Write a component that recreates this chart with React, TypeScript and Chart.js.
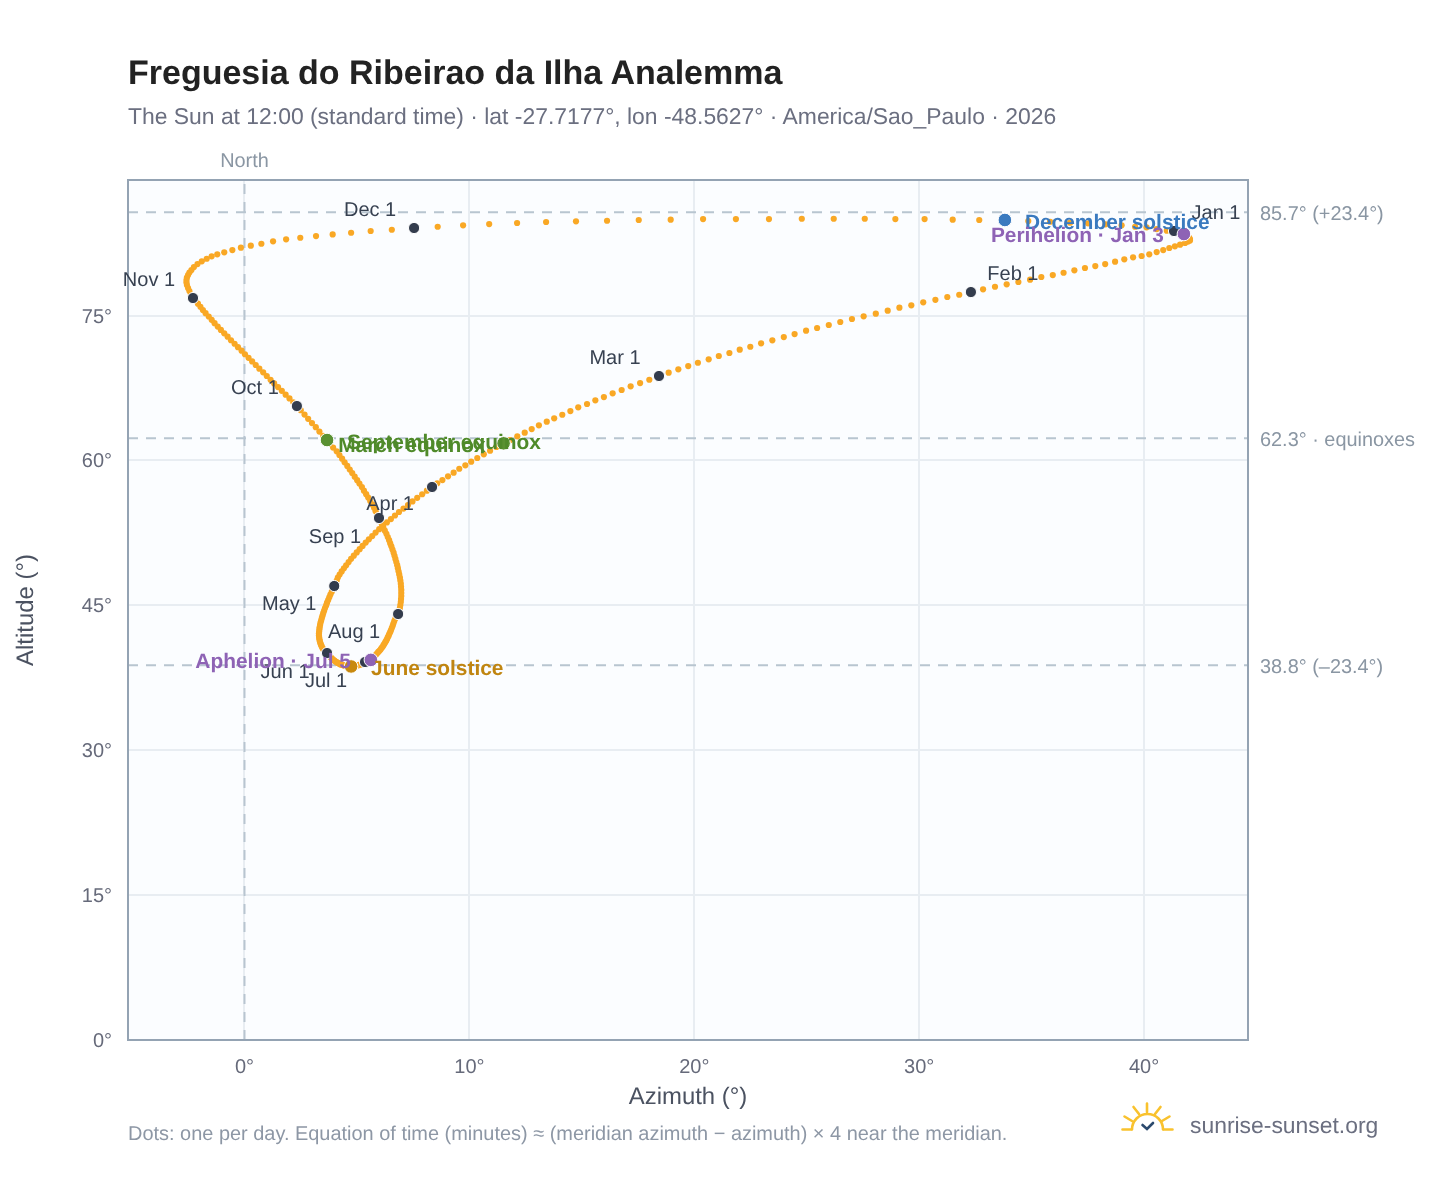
import React, { useEffect, useRef } from "react";
import { Chart, registerables } from "chart.js";

Chart.register(...registerables);

const FONT = '"Liberation Sans", Arial, sans-serif';

// Sun azimuth at 12:00 for each day of 2026 (Jan 1 .. Dec 31), degrees from north
const azimuthByDay = [
  41.33,41.55,41.77,41.91,42.00,42.04,42.04,41.95,41.82,41.60,41.37,41.12,40.85,40.56,40.23,39.89,39.51,39.12,38.71,38.27,37.83,37.37,36.90,36.42,35.94,35.43,34.93,34.41,33.89,33.37,32.84,
  32.30,31.78,31.25,30.72,30.18,29.65,29.12,28.60,28.07,27.53,27.01,26.49,25.98,25.46,24.97,24.46,23.98,23.47,22.97,22.49,22.02,21.56,21.09,20.64,20.16,19.73,19.29,18.86,
  18.43,18.00,17.59,17.17,16.77,16.37,15.98,15.60,15.23,14.84,14.49,14.13,13.77,13.44,13.09,12.77,12.46,12.13,11.81,11.52,11.20,10.92,10.64,10.35,10.08,9.82,9.55,9.30,9.05,8.80,8.57,
  8.34,8.11,7.90,7.68,7.47,7.27,7.07,6.87,6.69,6.51,6.33,6.15,5.99,5.83,5.68,5.53,5.39,5.25,5.12,4.99,4.86,4.74,4.63,4.52,4.42,4.32,4.23,4.15,4.10,4.04,
  3.99,3.94,3.88,3.82,3.77,3.72,3.67,3.63,3.58,3.54,3.50,3.47,3.44,3.41,3.38,3.36,3.34,3.33,3.32,3.31,3.31,3.32,3.33,3.35,3.37,3.40,3.43,3.46,3.50,3.55,3.61,
  3.67,3.71,3.76,3.81,3.86,3.90,3.95,4.00,4.05,4.10,4.15,4.20,4.25,4.30,4.36,4.41,4.47,4.53,4.59,4.66,4.74,4.80,4.87,4.94,5.00,5.06,5.13,5.18,5.24,5.30,
  5.36,5.43,5.49,5.55,5.62,5.68,5.74,5.79,5.85,5.90,5.95,6.00,6.05,6.09,6.14,6.18,6.22,6.26,6.30,6.34,6.37,6.41,6.44,6.48,6.51,6.55,6.59,6.62,6.66,6.71,6.77,
  6.83,6.87,6.91,6.93,6.95,6.96,6.97,6.97,6.97,6.96,6.95,6.93,6.91,6.88,6.85,6.82,6.79,6.75,6.71,6.67,6.63,6.58,6.53,6.48,6.43,6.37,6.31,6.24,6.17,6.11,6.05,
  5.98,5.91,5.83,5.76,5.68,5.59,5.50,5.41,5.31,5.22,5.11,5.01,4.90,4.79,4.68,4.57,4.45,4.34,4.22,4.10,3.94,3.80,3.67,3.50,3.33,3.17,3.00,2.83,2.67,2.50,
  2.33,2.17,2.00,1.83,1.66,1.49,1.32,1.16,0.99,0.83,0.66,0.50,0.34,0.18,0.02,-0.13,-0.29,-0.44,-0.60,-0.75,-0.90,-1.05,-1.19,-1.33,-1.46,-1.59,-1.73,-1.85,-1.96,-2.07,-2.18,
  -2.29,-2.38,-2.45,-2.51,-2.56,-2.58,-2.58,-2.56,-2.51,-2.45,-2.36,-2.25,-2.09,-1.90,-1.68,-1.46,-1.21,-0.90,-0.54,-0.16,0.28,0.75,1.27,1.85,2.48,3.18,3.92,4.74,5.61,6.55,
  7.54,8.59,9.72,10.88,12.12,13.41,14.74,16.12,17.53,18.95,20.39,21.85,23.32,24.78,26.20,27.58,28.94,30.24,31.49,32.67,33.81,34.85,35.82,36.71,37.51,38.29,39.00,39.60,40.11,40.56,41.01,
];

// Sun altitude at 12:00 for each day, degrees
const altitudeByDay = [
  83.75,83.59,83.44,83.23,83.07,82.92,82.76,82.66,82.51,82.33,82.16,81.99,81.78,81.57,81.34,81.16,81.02,80.82,80.57,80.33,80.12,79.92,79.68,79.43,79.19,78.99,78.71,78.47,78.23,77.98,77.71,
  77.43,77.15,76.92,76.63,76.37,76.06,75.81,75.50,75.19,74.92,74.64,74.33,74.02,73.71,73.43,73.08,72.77,72.43,72.12,71.77,71.46,71.12,70.81,70.47,70.11,69.77,69.43,69.08,
  68.74,68.35,68.01,67.67,67.29,66.95,66.56,66.22,65.84,65.50,65.11,64.73,64.36,64.01,63.63,63.25,62.87,62.49,62.11,61.77,61.39,61.00,60.63,60.25,59.87,59.49,59.14,58.73,58.35,57.97,57.63,
  57.25,56.87,56.50,56.13,55.76,55.38,55.02,54.66,54.30,53.93,53.58,53.23,52.88,52.53,52.17,51.83,51.49,51.15,50.81,50.48,50.14,49.81,49.48,49.15,48.83,48.51,48.19,47.88,47.57,47.28,
  47.00,46.70,46.41,46.12,45.83,45.55,45.27,44.99,44.72,44.45,44.19,43.93,43.69,43.44,43.20,42.96,42.73,42.51,42.29,42.08,41.87,41.68,41.48,41.29,41.11,40.93,40.77,40.60,40.46,40.31,40.18,
  40.06,39.93,39.80,39.68,39.57,39.46,39.36,39.27,39.18,39.11,39.04,38.98,38.91,38.86,38.82,38.78,38.75,38.72,38.70,38.69,38.67,38.69,38.70,38.73,38.76,38.80,38.85,38.90,38.96,39.04,
  39.13,39.20,39.27,39.36,39.44,39.54,39.65,39.77,39.90,40.03,40.17,40.29,40.42,40.57,40.71,40.87,41.02,41.18,41.34,41.51,41.69,41.86,42.05,42.24,42.42,42.65,42.88,43.12,43.37,43.63,43.87,
  44.10,44.41,44.72,45.03,45.34,45.65,45.96,46.27,46.59,46.91,47.24,47.56,47.88,48.20,48.52,48.84,49.16,49.48,49.80,50.12,50.45,50.78,51.11,51.41,51.74,52.07,52.40,52.73,53.06,53.40,53.72,
  54.04,54.39,54.74,55.09,55.44,55.80,56.15,56.51,56.87,57.24,57.60,57.96,58.32,58.70,59.06,59.43,59.80,60.18,60.56,60.94,61.33,61.72,62.11,62.55,62.99,63.44,63.87,64.31,64.75,65.20,
  65.63,66.02,66.42,66.81,67.20,67.59,67.97,68.35,68.74,69.12,69.50,69.88,70.25,70.62,70.99,71.36,71.72,72.08,72.44,72.81,73.16,73.51,73.86,74.21,74.55,74.90,75.24,75.57,75.90,76.23,76.52,
  76.81,77.17,77.54,77.85,78.16,78.42,78.67,78.93,79.19,79.45,79.71,80.02,80.33,80.61,80.88,81.13,81.34,81.54,81.78,82.02,82.23,82.43,82.68,82.89,83.05,83.23,83.40,83.57,83.75,83.88,
  84.06,84.19,84.34,84.47,84.58,84.68,84.75,84.81,84.89,84.92,84.99,84.99,84.99,85.02,85.02,85.02,84.99,84.99,84.92,84.89,84.89,84.78,84.71,84.61,84.54,84.44,84.34,84.19,84.13,83.95,83.78,
];

const monthNames = ["Jan 1","Feb 1","Mar 1","Apr 1","May 1","Jun 1","Jul 1","Aug 1","Sep 1","Oct 1","Nov 1","Dec 1"];
const monthDayIndex = [0,31,59,90,120,151,181,212,243,273,304,334];

const guideAltitudes = [85.7, 62.3, 38.8];
const guideLabels = ["85.7° (+23.4°)", "62.3° · equinoxes", "38.8° (–23.4°)"];
const xTickValues = [0, 10, 20, 30, 40];
const yTickValues = [0, 15, 30, 45, 60, 75];

const eventNames = ["March equinox","September equinox","June solstice","December solstice","Perihelion · Jan 3","Aphelion · Jul 5"];
const eventAz = [11.52, 3.67, 4.74, 33.81, 41.77, 5.62];
const eventAlt = [61.77, 62.11, 38.67, 84.89, 83.44, 39.35];

const X_MIN = -5.18, X_MAX = 44.62, Y_MIN = 0, Y_MAX = 89.03;

const monthLabelOffsets = [[42,-18],[42,-18],[-44,-18],[-42,18],[-45,18],[-42,19],[-39,19],[-44,18],[-44,19],[-42,-18],[-44,-18],[-44,-18]];
const eventColors = ["#5a9132","#5a9132","#c8890f","#3a7abf","#8e63b5","#8e63b5"];
const eventTextColors = ["#4f8a2a","#4f8a2a","#c08510","#3a7abf","#8e63b5","#8e63b5"];
const eventTextPlace: [CanvasTextAlign, number, number][] = [["right",-18,3],["left",20,3],["left",20,3],["left",20,3],["right",-20,2],["right",-20,2]];

const overlayPlugin = {
  id: "overlay",
  beforeDraw(chart: any) {
    const { ctx, chartArea: a } = chart;
    ctx.textRendering = "geometricPrecision";
    ctx.save();
    ctx.fillStyle = "#fbfdff";
    ctx.fillRect(a.left, a.top, a.right - a.left, a.bottom - a.top);
    ctx.restore();
  },
  afterDatasetsDraw(chart: any) {
    const { ctx, chartArea: a, scales } = chart;
    const sx = scales.x, sy = scales.y;
    ctx.save();
    ctx.strokeStyle = "#94a3b3";
    ctx.lineWidth = 2;
    ctx.strokeRect(a.left, a.top, a.right - a.left, a.bottom - a.top);

    ctx.textBaseline = "middle";
    ctx.font = `20px ${FONT}`;
    ctx.fillStyle = "#374151";
    ctx.textAlign = "center";
    monthNames.forEach((m, i) => {
      const d = monthDayIndex[i];
      const [ox, oy] = monthLabelOffsets[i];
      ctx.fillText(m, sx.getPixelForValue(azimuthByDay[d]) + ox, sy.getPixelForValue(altitudeByDay[d]) + oy);
    });

    ctx.font = `bold 20.9px ${FONT}`;
    eventNames.forEach((n, i) => {
      const [al, ox, oy] = eventTextPlace[i];
      ctx.textAlign = al;
      ctx.fillStyle = eventTextColors[i];
      ctx.fillText(n, sx.getPixelForValue(eventAz[i]) + ox, sy.getPixelForValue(eventAlt[i]) + oy);
    });

    ctx.font = `19.9px ${FONT}`;
    ctx.fillStyle = "#8a96a3";
    ctx.textAlign = "left";
    guideLabels.forEach((g, i) => {
      ctx.fillText(g, a.right + 12, sy.getPixelForValue(guideAltitudes[i]) + 2);
    });
    ctx.textAlign = "center";
    ctx.fillText("North", sx.getPixelForValue(0), a.top - 18);
    ctx.restore();
  },
};

export default function App() {
  const ref = useRef<HTMLCanvasElement | null>(null);
  useEffect(() => {
    if (!ref.current) return;
    const guideStyle = { showLine: true, pointRadius: 0, borderColor: "#b8c5d0", borderWidth: 2, borderDash: [10, 8], order: 5 };
    const chart = new Chart(ref.current, {
      type: "scatter",
      data: {
        datasets: [
          ...guideAltitudes.map((g, i) => ({
            label: guideLabels[i],
            data: [{ x: X_MIN, y: g }, { x: X_MAX, y: g }],
            ...guideStyle,
          })),
          {
            label: "North",
            data: [{ x: 0, y: Y_MIN }, { x: 0, y: Y_MAX }],
            ...guideStyle,
          },
          {
            label: "Daily sun position",
            data: azimuthByDay.map((x, i) => ({ x, y: altitudeByDay[i] })),
            pointRadius: 3.1,
            pointBackgroundColor: "#f9a825",
            pointBorderWidth: 0,
            order: 3,
          },
          {
            label: "First of month",
            data: monthDayIndex.map((d) => ({ x: azimuthByDay[d], y: altitudeByDay[d] })),
            pointRadius: 5.6,
            pointBackgroundColor: "#333c4d",
            pointBorderColor: "#ffffff",
            pointBorderWidth: 1,
            order: 2,
          },
          {
            label: "Events",
            data: eventAz.map((x, i) => ({ x, y: eventAlt[i] })),
            pointRadius: 6.8,
            pointBackgroundColor: eventColors,
            pointBorderColor: "#ffffff",
            pointBorderWidth: 1,
            order: 1,
          },
        ],
      },
      options: {
        responsive: false,
        animation: false,
        layout: { padding: { top: 180, right: 200, left: 0, bottom: 0 } },
        plugins: { legend: { display: false }, tooltip: { enabled: false }, title: { display: false } },
        scales: {
          x: {
            type: "linear",
            min: X_MIN,
            max: X_MAX,
            afterBuildTicks: (s: any) => { s.ticks = xTickValues.map((value) => ({ value })); },
            afterFit: (s: any) => { s.height = 148; },
            grid: { color: "#e8edf2", lineWidth: 2, drawTicks: false },
            border: { display: false },
            ticks: { padding: 15, color: "#666a7a", font: { family: FONT, size: 20 }, maxRotation: 0, callback: (v: any) => `${v}°` },
            title: { display: true, text: "Azimuth (°)", color: "#4b5261", font: { family: FONT, size: 23.9 }, padding: { top: 0, bottom: 76 } },
          },
          y: {
            type: "linear",
            min: Y_MIN,
            max: Y_MAX,
            afterBuildTicks: (s: any) => { s.ticks = yTickValues.map((value) => ({ value })); },
            afterFit: (s: any) => { s.width = 128; },
            grid: { color: "#e8edf2", lineWidth: 2, drawTicks: false },
            border: { display: false },
            ticks: { padding: 16, labelOffset: 1.5, color: "#666a7a", font: { family: FONT, size: 20 }, callback: (v: any) => `${v}°` },
            title: { display: true, text: "Altitude (°)", color: "#4b5261", font: { family: FONT, size: 23.9 }, padding: { top: 12, bottom: 0 } },
          },
        },
      },
      plugins: [overlayPlugin],
    } as any);
    return () => chart.destroy();
  }, []);

  const text = (t: string, left: number, cy: number, size: number, color: string, weight = 400) => (
    <div style={{ position: "absolute", left, top: cy - 20, height: 40, lineHeight: "40px", fontFamily: FONT, fontSize: size, color, fontWeight: weight, whiteSpace: "nowrap", textRendering: "geometricPrecision" }}>{t}</div>
  );

  return (
    <div style={{ position: "absolute", left: 0, top: 0, width: 1448, height: 1188, background: "#fff", overflow: "hidden" }}>
      <canvas ref={ref} width={1448} height={1188} style={{ display: "block" }} />
      {text("Freguesia do Ribeirao da Ilha Analemma", 128, 73, 34, "#222222", 700)}
      {text("The Sun at 12:00 (standard time) · lat -27.7177°, lon -48.5627° · America/Sao_Paulo · 2026", 128, 116, 22.9, "#6b6f80")}
      {text("Dots: one per day. Equation of time (minutes) ≈ (meridian azimuth − azimuth) × 4 near the meridian.", 128, 1134, 19.94, "#8d97a5")}
      {text("sunrise-sunset.org", 1190, 1125, 22.9, "#6b6f80")}
      <svg style={{ position: "absolute", left: 1118, top: 1098, width: 60, height: 40 }} viewBox="1118 1098 60 40">
        <g fill="none" stroke="#f9c22e" strokeWidth="2.6" strokeLinecap="round">
          <path d="M1132 1129.5 A15.5 15.5 0 0 1 1163 1129.5" />
          <path d="M1122.5 1129.5 H1131 M1164 1129.5 H1172.5" />
          <path d="M1147 1103.5 V1112 M1133.5 1107 L1139 1114 M1160.5 1107 L1155 1114 M1124.5 1116.5 L1132 1121 M1169.5 1116.5 L1162 1121" />
        </g>
        <path d="M1142.5 1125 L1147 1129 L1153 1123" fill="none" stroke="#2c4a6e" strokeWidth="2.6" strokeLinecap="round" />
      </svg>
    </div>
  );
}
